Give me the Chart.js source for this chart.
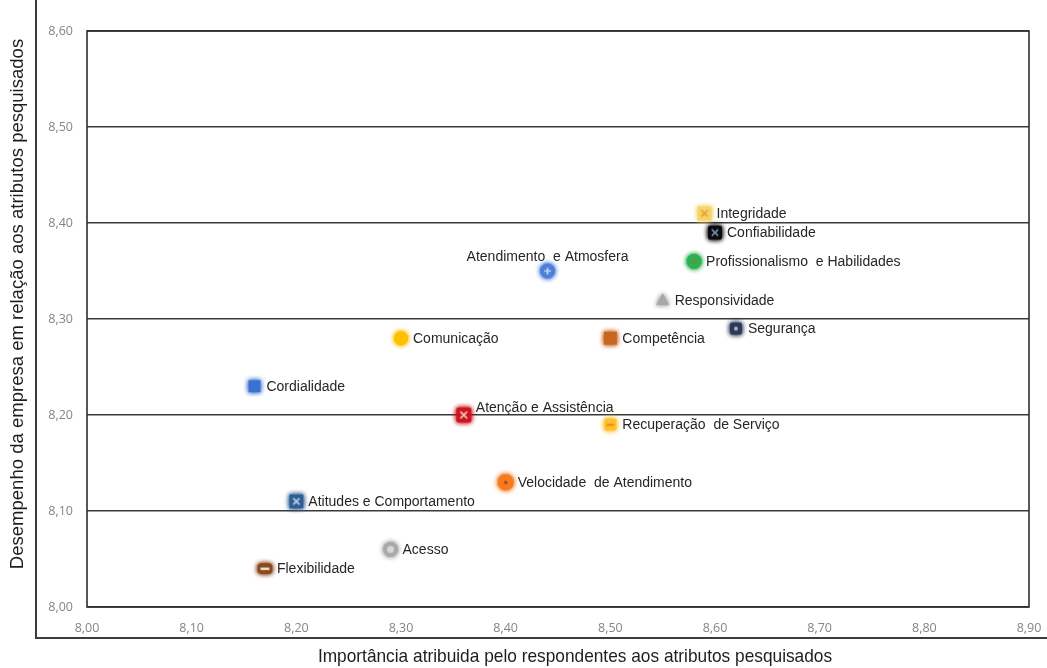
<!DOCTYPE html>
<html>
<head>
<meta charset="utf-8">
<script src="https://cdn.jsdelivr.net/npm/chart.js@4.4.1/dist/chart.umd.min.js"></script>
<style>
  html, body { margin: 0; padding: 0; background: #fff; }
  #wrap { width: 1047px; height: 668px; }
</style>
</head>
<body>
<div id="wrap"><canvas id="matriz"></canvas></div>
<script>
// Atributos avaliados: importância (x) x desempenho (y)
const attributes = [
  "Integridade", "Confiabilidade", "Profissionalismo  e Habilidades", "Atendimento  e Atmosfera",
  "Responsividade", "Segurança", "Comunicação", "Competência", "Cordialidade",
  "Atenção e Assistência", "Recuperação  de Serviço", "Velocidade  de Atendimento",
  "Atitudes e Comportamento", "Acesso", "Flexibilidade"
];
const importance = [8.59, 8.60, 8.58, 8.44, 8.55, 8.62, 8.30, 8.50, 8.16, 8.36, 8.50, 8.40, 8.20, 8.29, 8.17];
const performance = [8.41, 8.39, 8.36, 8.35, 8.32, 8.29, 8.28, 8.28, 8.23, 8.20, 8.19, 8.13, 8.11, 8.06, 8.04];

const xTickValues = [8.0, 8.1, 8.2, 8.3, 8.4, 8.5, 8.6, 8.7, 8.8, 8.9];
const yTickValues = [8.0, 8.1, 8.2, 8.3, 8.4, 8.5, 8.6];

const xTitle = "Importância atribuida pelo respondentes aos atributos pesquisados";
const yTitle = "Desempenho da empresa em relação aos atributos pesquisados";

// marcador de cada atributo: forma, cor, símbolo interno
const markerStyles = [
  { shape: "rect", color: "#f6d36a", size: 14, glyph: "x", glyphColor: "#e8a030" },
  { shape: "round", color: "#0c0c0c", size: 14, glyph: "x", glyphColor: "#6f8fb8" },
  { shape: "circle", color: "#2eb04f", size: 15, glyph: "dot", glyphColor: "#7c8a3a" },
  { shape: "circle", color: "#4c80d8", size: 15, glyph: "plus", glyphColor: "#c8d8f4" },
  { shape: "triangle", color: "#a8a8a8", size: 13 },
  { shape: "round", color: "#2c3a58", size: 12, glyph: "dot", glyphColor: "#a9b8d0" },
  { shape: "circle", color: "#ffc000", size: 14 },
  { shape: "rect", color: "#c8651f", size: 13 },
  { shape: "rect", color: "#3b72d2", size: 12 },
  { shape: "round", color: "#c9151d", size: 15, glyph: "x", glyphColor: "#f6c6c6" },
  { shape: "round", color: "#ffc12a", size: 12, glyph: "dash", glyphColor: "#f08a20" },
  { shape: "circle", color: "#f47b20", size: 16, glyph: "tri", glyphColor: "#8a3a10" },
  { shape: "rect", color: "#2f5e92", size: 14, glyph: "x", glyphColor: "#b8d2ee" },
  { shape: "circle", color: "#a9a9a9", size: 15, glyph: "ring", glyphColor: "#d6d6d6" },
  { shape: "pill", color: "#8a4a1f", size: 15, glyph: "dash", glyphColor: "#f4e6da" }
];

// posição do rótulo em relação ao ponto
const labelAnchor = ["right", "right", "right", "above", "right", "right", "right", "right", "right",
  "rightUp", "right", "right", "right", "right", "right"];

const fmt = v => v.toFixed(2).replace(".", ",");

function makeMarker(st) {
  const c = document.createElement("canvas");
  const dim = st.size + 12;
  c.width = dim; c.height = dim;
  const g = c.getContext("2d");
  const m = dim / 2, h = st.size / 2;
  g.shadowColor = st.color;
  g.shadowBlur = 5;
  g.fillStyle = st.color;
  g.beginPath();
  if (st.shape === "circle") {
    g.arc(m, m, h, 0, Math.PI * 2);
  } else if (st.shape === "triangle") {
    g.moveTo(m, m - h);
    g.lineTo(m + h, m + h * 0.8);
    g.lineTo(m - h, m + h * 0.8);
    g.closePath();
  } else if (st.shape === "round") {
    g.roundRect(m - h, m - h, st.size, st.size, 3);
  } else if (st.shape === "pill") {
    g.roundRect(m - h, m - h * 0.7, st.size, st.size * 0.7, 4);
  } else {
    g.rect(m - h, m - h, st.size, st.size);
  }
  g.fill();
  g.fill();
  g.shadowBlur = 0;
  g.strokeStyle = st.glyphColor;
  g.fillStyle = st.glyphColor;
  g.lineWidth = 1.6;
  const k = h * 0.45;
  if (st.glyph === "x") {
    g.beginPath();
    g.moveTo(m - k, m - k); g.lineTo(m + k, m + k);
    g.moveTo(m + k, m - k); g.lineTo(m - k, m + k);
    g.stroke();
  } else if (st.glyph === "plus") {
    g.beginPath();
    g.moveTo(m - k, m); g.lineTo(m + k, m);
    g.moveTo(m, m - k); g.lineTo(m, m + k);
    g.stroke();
  } else if (st.glyph === "dot") {
    g.beginPath(); g.arc(m, m, 2, 0, Math.PI * 2); g.fill();
  } else if (st.glyph === "ring") {
    g.beginPath(); g.arc(m, m, 3.5, 0, Math.PI * 2); g.fill();
  } else if (st.glyph === "dash") {
    g.fillRect(m - k - 1, m - 1, 2 * k + 2, 2.4);
  } else if (st.glyph === "tri") {
    g.beginPath();
    g.moveTo(m, m - 2); g.lineTo(m + 2, m + 1.5); g.lineTo(m - 2, m + 1.5);
    g.closePath(); g.fill();
  }
  return c;
}

const markers = markerStyles.map(makeMarker);

// texto condensado (escala horizontal), sem fonte "narrow" disponível
function narrowText(ctx, txt, x, y, rot, squeeze) {
  ctx.save();
  ctx.translate(x, y);
  ctx.rotate(rot);
  ctx.scale(squeeze, 1);
  ctx.textAlign = "center";
  ctx.textBaseline = "middle";
  ctx.fillText(txt, 0, 0);
  ctx.restore();
}

// moldura externa, borda da área de plotagem, títulos e rótulos dos pontos
const decorPlugin = {
  id: "decor",
  beforeDraw(chart) {
    const ctx = chart.ctx;
    ctx.save();
    ctx.strokeStyle = "#3c3c3c";
    ctx.lineWidth = 2;
    ctx.beginPath();
    ctx.moveTo(36, 0);
    ctx.lineTo(36, 638);
    ctx.lineTo(chart.width, 638);
    ctx.stroke();

    ctx.fillStyle = "#1e1e1e";
    ctx.font = "19px 'Liberation Sans', Arial, sans-serif";
    narrowText(ctx, xTitle, 575, 657, 0, 0.91);
    narrowText(ctx, yTitle, 18, 304, -Math.PI / 2, 0.975);
    ctx.restore();
  },
  afterDatasetsDraw(chart) {
    const ctx = chart.ctx;
    const a = chart.chartArea;
    ctx.save();
    ctx.strokeStyle = "#2e2e2e";
    ctx.lineWidth = 1.6;
    ctx.strokeRect(a.left, a.top, a.right - a.left, a.bottom - a.top);

    const meta = chart.getDatasetMeta(0);
    ctx.font = "14px 'Liberation Sans', Arial, sans-serif";
    ctx.fillStyle = "#262626";
    ctx.textBaseline = "middle";
    meta.data.forEach((pt, i) => {
      const txt = attributes[i];
      const anchor = labelAnchor[i];
      if (anchor === "above") {
        ctx.textAlign = "center";
        ctx.fillText(txt, pt.x, pt.y - 14);
      } else if (anchor === "rightUp") {
        ctx.textAlign = "left";
        ctx.fillText(txt, pt.x + 12, pt.y - 7);
      } else {
        ctx.textAlign = "left";
        ctx.fillText(txt, pt.x + 12, pt.y + 1);
      }
    });
    ctx.restore();
  }
};

const tickFont = { family: "'Open Sans', 'Liberation Sans', sans-serif", size: 12.5 };

new Chart(document.getElementById("matriz"), {
  type: "scatter",
  data: {
    datasets: [{
      data: importance.map((x, i) => ({ x: x, y: performance[i] })),
      pointStyle: markers,
      pointRadius: 8,
      pointHoverRadius: 8
    }]
  },
  options: {
    responsive: true,
    maintainAspectRatio: false,
    animation: false,
    events: [],
    layout: { padding: { top: 31, right: 18, left: 0, bottom: 0 } },
    plugins: { legend: { display: false }, tooltip: { enabled: false } },
    scales: {
      x: {
        type: "linear",
        min: 8.0,
        max: 8.9,
        afterFit: s => { s.height = 61; s.paddingRight = 0; s.paddingLeft = 0; },
        afterBuildTicks: s => { s.ticks = xTickValues.map(v => ({ value: v })); },
        grid: { display: false, drawTicks: false },
        border: { display: false },
        ticks: { color: "#858585", font: tickFont, padding: 14, maxRotation: 0, callback: v => fmt(v) },
        title: { display: false }
      },
      y: {
        type: "linear",
        min: 8.0,
        max: 8.6,
        afterFit: s => { s.width = 87; s.paddingTop = 0; s.paddingBottom = 0; },
        afterBuildTicks: s => { s.ticks = yTickValues.map(v => ({ value: v })); },
        grid: { color: "#3a3a3a", lineWidth: 1.6, drawTicks: false },
        border: { display: false },
        ticks: { color: "#858585", font: tickFont, padding: 14, callback: v => fmt(v) },
        title: { display: false }
      }
    }
  },
  plugins: [decorPlugin]
});
</script>
</body>
</html>
